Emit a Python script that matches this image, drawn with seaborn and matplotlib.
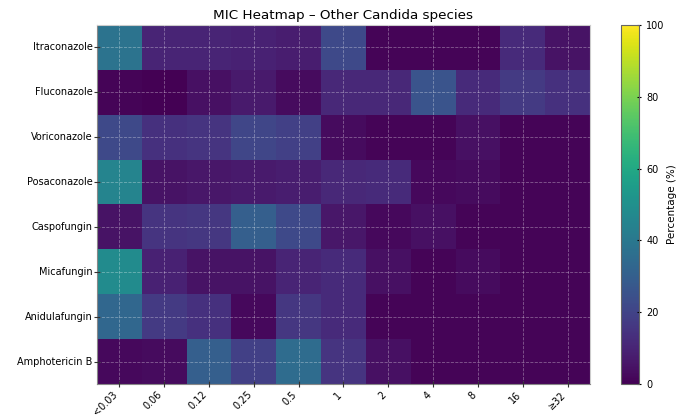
import numpy as np
import pandas as pd
import matplotlib
matplotlib.use("Agg")
import matplotlib.pyplot as plt
import seaborn as sns

drugs = ["Itraconazole", "Fluconazole", "Voriconazole", "Posaconazole",
         "Caspofungin", "Micafungin", "Anidulafungin", "Amphotericin B"]
mic_labels = ["<0.03", "0.06", "0.12", "0.25", "0.5", "1", "2", "4", "8", "16", "≥32"]

itraconazole   = [38, 10, 10, 9, 8, 22, 1, 1, 1, 12, 5]
fluconazole    = [1, 0, 4, 7, 3, 11, 11, 26, 12, 17, 14]
voriconazole   = [22, 14, 15, 21, 19, 3, 1, 1, 4, 1, 1]
posaconazole   = [45, 5, 6, 7, 8, 11, 12, 2, 3, 1, 1]
caspofungin    = [5, 15, 16, 30, 22, 6, 2, 4, 1, 1, 1]
micafungin     = [48, 9, 5, 5, 10, 12, 4, 1, 3, 1, 1]
anidulafungin  = [33, 17, 14, 2, 16, 12, 1, 1, 1, 1, 1]
amphotericin_b = [2, 3, 30, 19, 35, 15, 4, 1, 1, 1, 1]

df = pd.DataFrame([itraconazole, fluconazole, voriconazole, posaconazole,
                   caspofungin, micafungin, anidulafungin, amphotericin_b],
                  index=drugs, columns=mic_labels)

fig = plt.figure(figsize=(6.86, 4.16), dpi=100)
ax = fig.add_axes([0.1414, 0.077, 0.7186, 0.863])
cax = fig.add_axes([0.905, 0.077, 0.027, 0.863])

sns.heatmap(df, ax=ax, cbar_ax=cax, cmap="viridis", vmin=0, vmax=100,
            cbar_kws={"label": "Percentage (%)"})

ax.set_title("MIC Heatmap – Other Candida species", fontsize=9.7, pad=4)
ax.set_xlabel("")
ax.set_ylabel("")
ax.set_xticklabels(mic_labels, rotation=45, ha="right", fontsize=7)
ax.set_yticklabels(drugs, rotation=0, fontsize=7)
ax.tick_params(axis="both", direction="inout", length=4, width=0.8, color="#333333")
ax.tick_params(axis="x", pad=2)
ax.tick_params(axis="y", pad=1)

for s in ax.spines.values():
    s.set_visible(True)
    s.set_color("#888888")
    s.set_linewidth(0.8)
ax.spines["top"].set_color("#cccccc")
ax.spines["right"].set_color("#cccccc")

ax.set_axisbelow(False)
ax.grid(True, linestyle="--", color="white", alpha=0.35, linewidth=0.6)

cax.tick_params(labelsize=7, length=3, width=0.8, direction="inout")
cax.set_ylabel("Percentage (%)", fontsize=7.5, labelpad=2)
cbar = ax.collections[0].colorbar
cbar.set_ticks([0, 20, 40, 60, 80, 100])
cbar.outline.set_visible(True)
cbar.outline.set_edgecolor("#666666")
cbar.outline.set_linewidth(0.8)

fig.savefig("out.png", dpi=100)
